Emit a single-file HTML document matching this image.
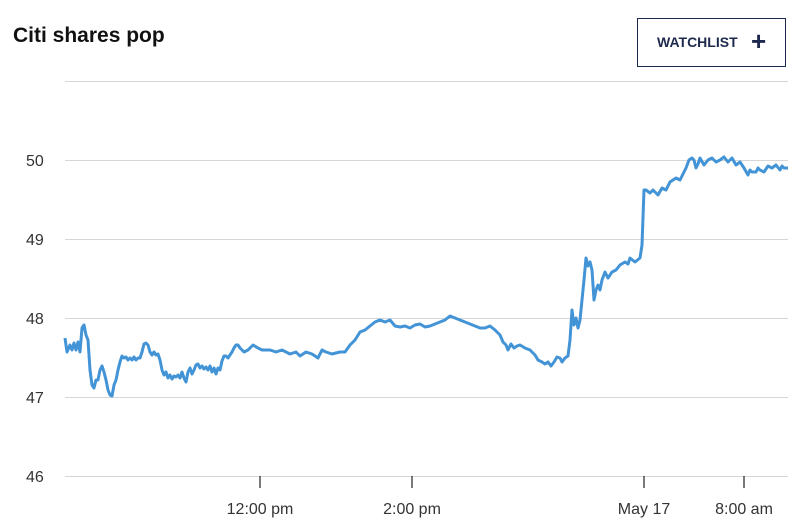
<!DOCTYPE html>
<html><head><style>
body{margin:0;width:812px;height:529px;background:#fff;font-family:"Liberation Sans",sans-serif;overflow:hidden;position:relative}
.t{position:absolute;left:13px;top:24px;font-size:21px;font-weight:bold;color:#111}
.w{position:absolute;left:637px;top:18px;width:149px;height:49px;border:1px solid #1d2a4d;box-sizing:border-box;color:#1d2a4d;font-weight:bold;font-size:14px;line-height:47px;padding-left:19px}
.w span{font-size:26px;position:absolute;left:113px;top:-1px;font-weight:bold}
</style></head><body>
<div class="t">Citi shares pop</div>
<div class="w">WATCHLIST<span>+</span></div>
<svg width="812" height="529" style="position:absolute;left:0;top:0">
<g stroke="#d6d6d6" stroke-width="1">
<line x1="65" x2="788" y1="81.5" y2="81.5"/><line x1="65" x2="788" y1="160.5" y2="160.5"/><line x1="65" x2="788" y1="239.5" y2="239.5"/><line x1="65" x2="788" y1="318.5" y2="318.5"/><line x1="65" x2="788" y1="397.5" y2="397.5"/><line x1="65" x2="788" y1="476.5" y2="476.5"/>
</g>
<g stroke="#333" stroke-width="1.3"><line x1="260" x2="260" y1="476" y2="488"/><line x1="412" x2="412" y1="476" y2="488"/><line x1="644" x2="644" y1="476" y2="488"/><line x1="744" x2="744" y1="476" y2="488"/></g>
<g font-size="16" fill="#333" font-family="Liberation Sans,sans-serif">
<text x="26" y="166">50</text><text x="26" y="245">49</text><text x="26" y="324">48</text><text x="26" y="403">47</text><text x="26" y="482">46</text>
<text x="260" y="514" text-anchor="middle">12:00 pm</text><text x="412" y="514" text-anchor="middle">2:00 pm</text><text x="644" y="514" text-anchor="middle">May 17</text><text x="744" y="514" text-anchor="middle">8:00 am</text>
</g>
<polyline fill="none" stroke="#4394d6" stroke-width="3" stroke-linejoin="round" points="65,338 67,352 70,345 72,350 74,343 76,350 78,342 80,352 82,328 84,325 86,335 88,340 90,370 92,385 94,388 96,380 98,380 100,370 102,366 104,372 106,380 108,390 110,395 112,396 114,385 116,380 118,370 120,362 122,356 124,358 126,357 128,360 130,358 132,360 134,357 136,360 138,358 140,358 142,352 144,344 146,343 148,345 150,352 152,355 154,352 156,355 158,354 160,360 162,370 164,375 166,372 168,378 170,375 172,379 174,376 176,377 178,375 180,378 182,372 184,378 186,382 188,372 190,368 192,374 194,370 196,365 198,364 200,368 202,366 204,369 206,367 208,370 210,366 212,372 214,368 216,374 218,368 220,370 222,361 224,356 226,356 228,358 230,355 232,352 234,348 236,345 238,345 240,348 244,352 248,350 253,345 258,348 262,350 270,350 276,352 282,350 290,354 296,352 300,356 306,352 312,354 318,358 322,350 326,352 332,354 340,352 345,352 350,345 355,340 360,332 365,330 370,326 375,322 380,320 385,322 390,320 395,326 400,327 405,326 410,328 415,325 420,324 425,327 430,326 435,324 440,322 445,320 450,316 455,318 460,320 465,322 470,324 475,326 480,328 485,328 490,326 495,330 500,335 503,342 506,345 508,350 511,344 514,348 517,346 520,345 525,348 530,350 535,355 538,360 542,362 545,364 548,362 551,366 554,362 557,357 560,358 562,362 565,358 568,356 570,340 572,310 574,325 576,318 578,328 580,320 582,300 584,280 586,258 588,266 590,262 592,270 594,300 596,290 598,285 600,290 602,280 605,272 608,278 612,272 616,270 620,265 625,262 628,264 630,258 635,262 640,258 642,245 644,190 646,190 650,193 653,190 655,192 658,195 662,188 666,190 670,182 673,180 676,178 680,180 684,172 686,168 689,160 692,158 694,160 696,168 698,164 700,158 704,165 708,160 712,158 716,162 720,160 724,157 728,162 732,158 736,165 740,162 744,168 748,175 750,170 752,172 756,172 758,168 760,170 764,172 768,166 772,168 776,165 780,170 782,166 784,168 788,168"/>
</svg>
</body></html>
